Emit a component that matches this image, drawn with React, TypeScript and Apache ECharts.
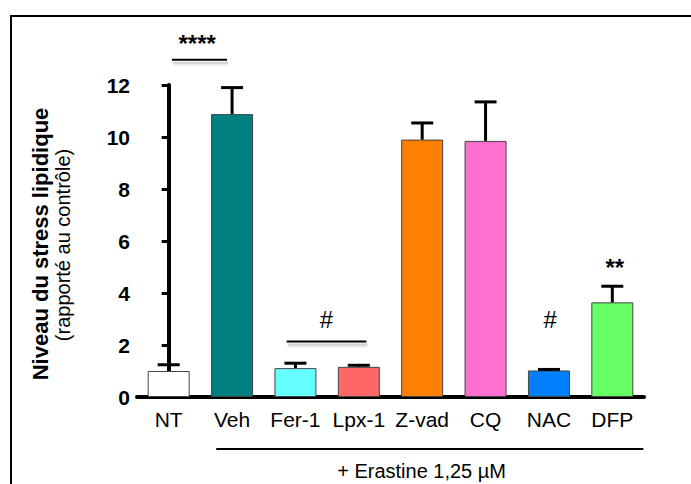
import React, { useEffect, useRef } from "react";
import * as echarts from "echarts";

const categories = ["NT", "Veh", "Fer-1", "Lpx-1", "Z-vad", "CQ", "NAC", "DFP"];
const means = [1.0, 10.88, 1.11, 1.16, 9.9, 9.85, 1.02, 3.64];
const errors = [0.24, 1.02, 0.19, 0.06, 0.64, 1.5, 0.04, 0.62];
const barColors = ["#FFFFFF", "#008080", "#66FFFF", "#FF6666", "#FF8000", "#FF6FCF", "#0080FF", "#66FF66"];
const yTickValues = [0, 2, 4, 6, 8, 10, 12];

// significance brackets: [xStart, xEnd, y] in category units
const brackets = [
  [0.05, 0.92, 12.97],
  [1.86, 3.12, 2.13],
];
// significance marks: [x, y]
const markPos = [
  [0.45, 13.6],
  [2.49, 3.0],
  [6.02, 3.0],
  [7.04, 5.0],
];
const markTexts = ["****", "#", "#", "**"];
// treatment line below axis
const treatLine = [[0.75, 7.49, -2.0]];
const treatLabelPos = [[3.99, -2.86]];
const treatLabel = ["+ Erastine 1,25 µM"];

const FONT = "'Liberation Sans', Arial, sans-serif";

export default function App() {
  const ref = useRef<HTMLDivElement>(null);
  useEffect(() => {
    const chart = echarts.init(ref.current!, null, { renderer: "svg" });
    const option: any = {
      animation: false,
      backgroundColor: "#ffffff",
      grid: { left: 137, right: 47, top: 85, bottom: 87, containLabel: false },
      xAxis: [
        {
          type: "category",
          data: categories,
          axisLine: { lineStyle: { color: "#000", width: 4 } },
          axisTick: { alignWithLabel: true, length: 8, lineStyle: { color: "#000", width: 3 } },
          axisLabel: { interval: 0, hideOverlap: false, color: "#000", fontSize: 21, fontFamily: FONT, margin: 12 },
        },
        { type: "value", min: -0.5, max: 7.5, show: false },
      ],
      yAxis: {
        type: "value",
        min: yTickValues[0],
        max: yTickValues[yTickValues.length - 1],
        interval: 2,
        splitLine: { show: false },
        axisLine: { show: true, lineStyle: { color: "#000", width: 4 } },
        axisTick: { show: true, length: 7, lineStyle: { color: "#000", width: 3 } },
        axisLabel: { color: "#000", fontSize: 21, fontWeight: "bold", fontFamily: FONT, margin: 7 },
      },
      series: [
        {
          type: "bar",
          barWidth: 42,
          data: means.map((v, i) => ({
            value: v,
            itemStyle: { color: barColors[i], borderColor: "#444", borderWidth: 1 },
          })),
          z: 2,
        },
        {
          type: "custom",
          z: 3,
          data: means.map((v, i) => [i, v, errors[i]]),
          renderItem: (params: any, api: any) => {
            const i = api.value(0);
            const v = api.value(1);
            const e = api.value(2);
            const base = api.coord([i, v]);
            const top = api.coord([i, v + e]);
            return {
              type: "group",
              children: [
                { type: "line", shape: { x1: base[0], y1: base[1], x2: top[0], y2: top[1] }, style: { stroke: "#000", lineWidth: 3 } },
                { type: "line", shape: { x1: top[0] - 11, y1: top[1], x2: top[0] + 11, y2: top[1] }, style: { stroke: "#000", lineWidth: 3 } },
              ],
            };
          },
        },
        {
          type: "custom",
          xAxisIndex: 1,
          z: 4,
          clip: false,
          data: brackets.concat(treatLine),
          renderItem: (params: any, api: any) => {
            const a = api.coord([api.value(0), api.value(2)]);
            const b = api.coord([api.value(1), api.value(2)]);
            const isTreat = params.dataIndex >= brackets.length;
            const main = {
              type: "line",
              shape: { x1: a[0], y1: a[1], x2: b[0], y2: b[1] },
              style: { stroke: "#000", lineWidth: 2 },
            };
            if (isTreat) return main;
            return {
              type: "group",
              children: [
                { type: "line", shape: { x1: a[0] + 1, y1: a[1] + 4, x2: b[0] + 1, y2: b[1] + 4 }, style: { stroke: "rgba(0,0,0,0.08)", lineWidth: 4 } },
                { type: "line", shape: { x1: a[0] + 1, y1: a[1] + 3, x2: b[0] + 1, y2: b[1] + 3 }, style: { stroke: "rgba(0,0,0,0.1)", lineWidth: 2 } },
                main,
              ],
            };
          },
        },
        {
          type: "custom",
          xAxisIndex: 1,
          z: 4,
          clip: false,
          data: markPos.concat(treatLabelPos),
          renderItem: (params: any, api: any) => {
            const p = api.coord([api.value(0), api.value(1)]);
            const idx = params.dataIndex;
            const isTreat = idx >= markPos.length;
            const text = isTreat ? treatLabel[idx - markPos.length] : markTexts[idx];
            const isHash = text === "#";
            return {
              type: "text",
              x: p[0],
              y: p[1],
              style: {
                text,
                fill: "#000",
                align: "center",
                verticalAlign: "middle",
                fontFamily: FONT,
                fontSize: isTreat ? 20 : 24,
                fontWeight: isTreat || isHash ? "normal" : "bold",
              },
            };
          },
        },
      ],
      graphic: [
        {
          type: "rect",
          shape: { x: 11, y: 16, width: 700, height: 500 },
          style: { fill: "none", stroke: "#000", lineWidth: 2 },
          z: 10,
        },
        {
          type: "text",
          x: 40,
          y: 244,
          rotation: Math.PI / 2,
          style: {
            text: "Niveau du stress lipidique",
            fill: "#000",
            fontFamily: FONT,
            fontWeight: "bold",
            fontSize: 22,
            align: "center",
            verticalAlign: "middle",
          },
        },
        {
          type: "text",
          x: 63,
          y: 245,
          rotation: Math.PI / 2,
          style: {
            text: "(rapporté au contrôle)",
            fill: "#000",
            fontFamily: FONT,
            fontSize: 20,
            align: "center",
            verticalAlign: "middle",
          },
        },
      ],
    };
    chart.setOption(option);
    return () => chart.dispose();
  }, []);
  return (
    <div
      ref={ref}
      style={{ position: "fixed", left: 0, top: 0, width: 691, height: 484, background: "#fff" }}
    />
  );
}
